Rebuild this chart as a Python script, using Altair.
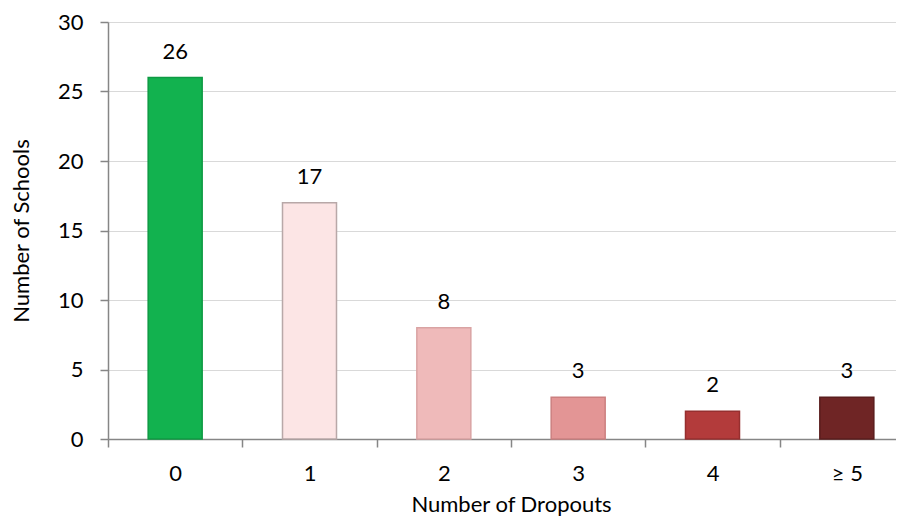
import altair as alt
import pandas as pd

categories = ["0", "1", "2", "3", "4", "≥ 5"]
schools = [26, 17, 8, 3, 2, 3]
fills = ["#12B24F", "#FCE5E5", "#EFBABA", "#E39595", "#B33B3B", "#6F2525"]
strokes = ["#0E9A43", "#B8A8A8", "#D9A3A3", "#CC8080", "#962F2F", "#5A1D1D"]

df = pd.DataFrame({"cat": categories, "val": schools, "fill": fills, "stroke": strokes})

FONT = "Lato"
FS = 22

x = alt.X("cat:N", sort=categories, title="Number of Dropouts",
          scale=alt.Scale(paddingInner=0, paddingOuter=0, range=[0, 806]),
          axis=alt.Axis(labelAngle=0, tickBand="extent", labelPadding=16,
                        titlePadding=10, tickSize=8, grid=False))
y = alt.Y("val:Q", title="Number of Schools",
          scale=alt.Scale(domain=[0, 30], nice=False),
          axis=alt.Axis(values=[0, 5, 10, 15, 20, 25, 30], tickSize=8,
                        labelPadding=17, titlePadding=24, grid=True))

bars = alt.Chart(df).mark_bar(size=54, strokeWidth=1.5).encode(
    x=x, y=y,
    fill=alt.Fill("fill:N", scale=None),
    stroke=alt.Stroke("stroke:N", scale=None),
)

labels = alt.Chart(df).mark_text(dy=-19, baseline="alphabetic", fontSize=FS,
                                 font=FONT, color="#000000").encode(
    x=alt.X("cat:N", sort=categories),
    y=alt.Y("val:Q"),
    text=alt.Text("val:Q"),
)

chart = (bars + labels).properties(
    width=788, height=417,
    autosize=alt.AutoSizeParams(type="none"),
    padding={"left": 100, "top": 14, "right": 0, "bottom": 80},
).configure_view(stroke=None).configure_axis(
    labelFont=FONT, titleFont=FONT, labelFontSize=FS, titleFontSize=FS,
    labelColor="#000000", titleColor="#000000", titleFontWeight="normal",
    domainColor="#868686", tickColor="#868686", gridColor="#D9D9D9",
    domainWidth=1.5, tickWidth=1.5, gridWidth=1,
)

chart.save("out.html", embed_options={"renderer": "svg", "actions": False})
